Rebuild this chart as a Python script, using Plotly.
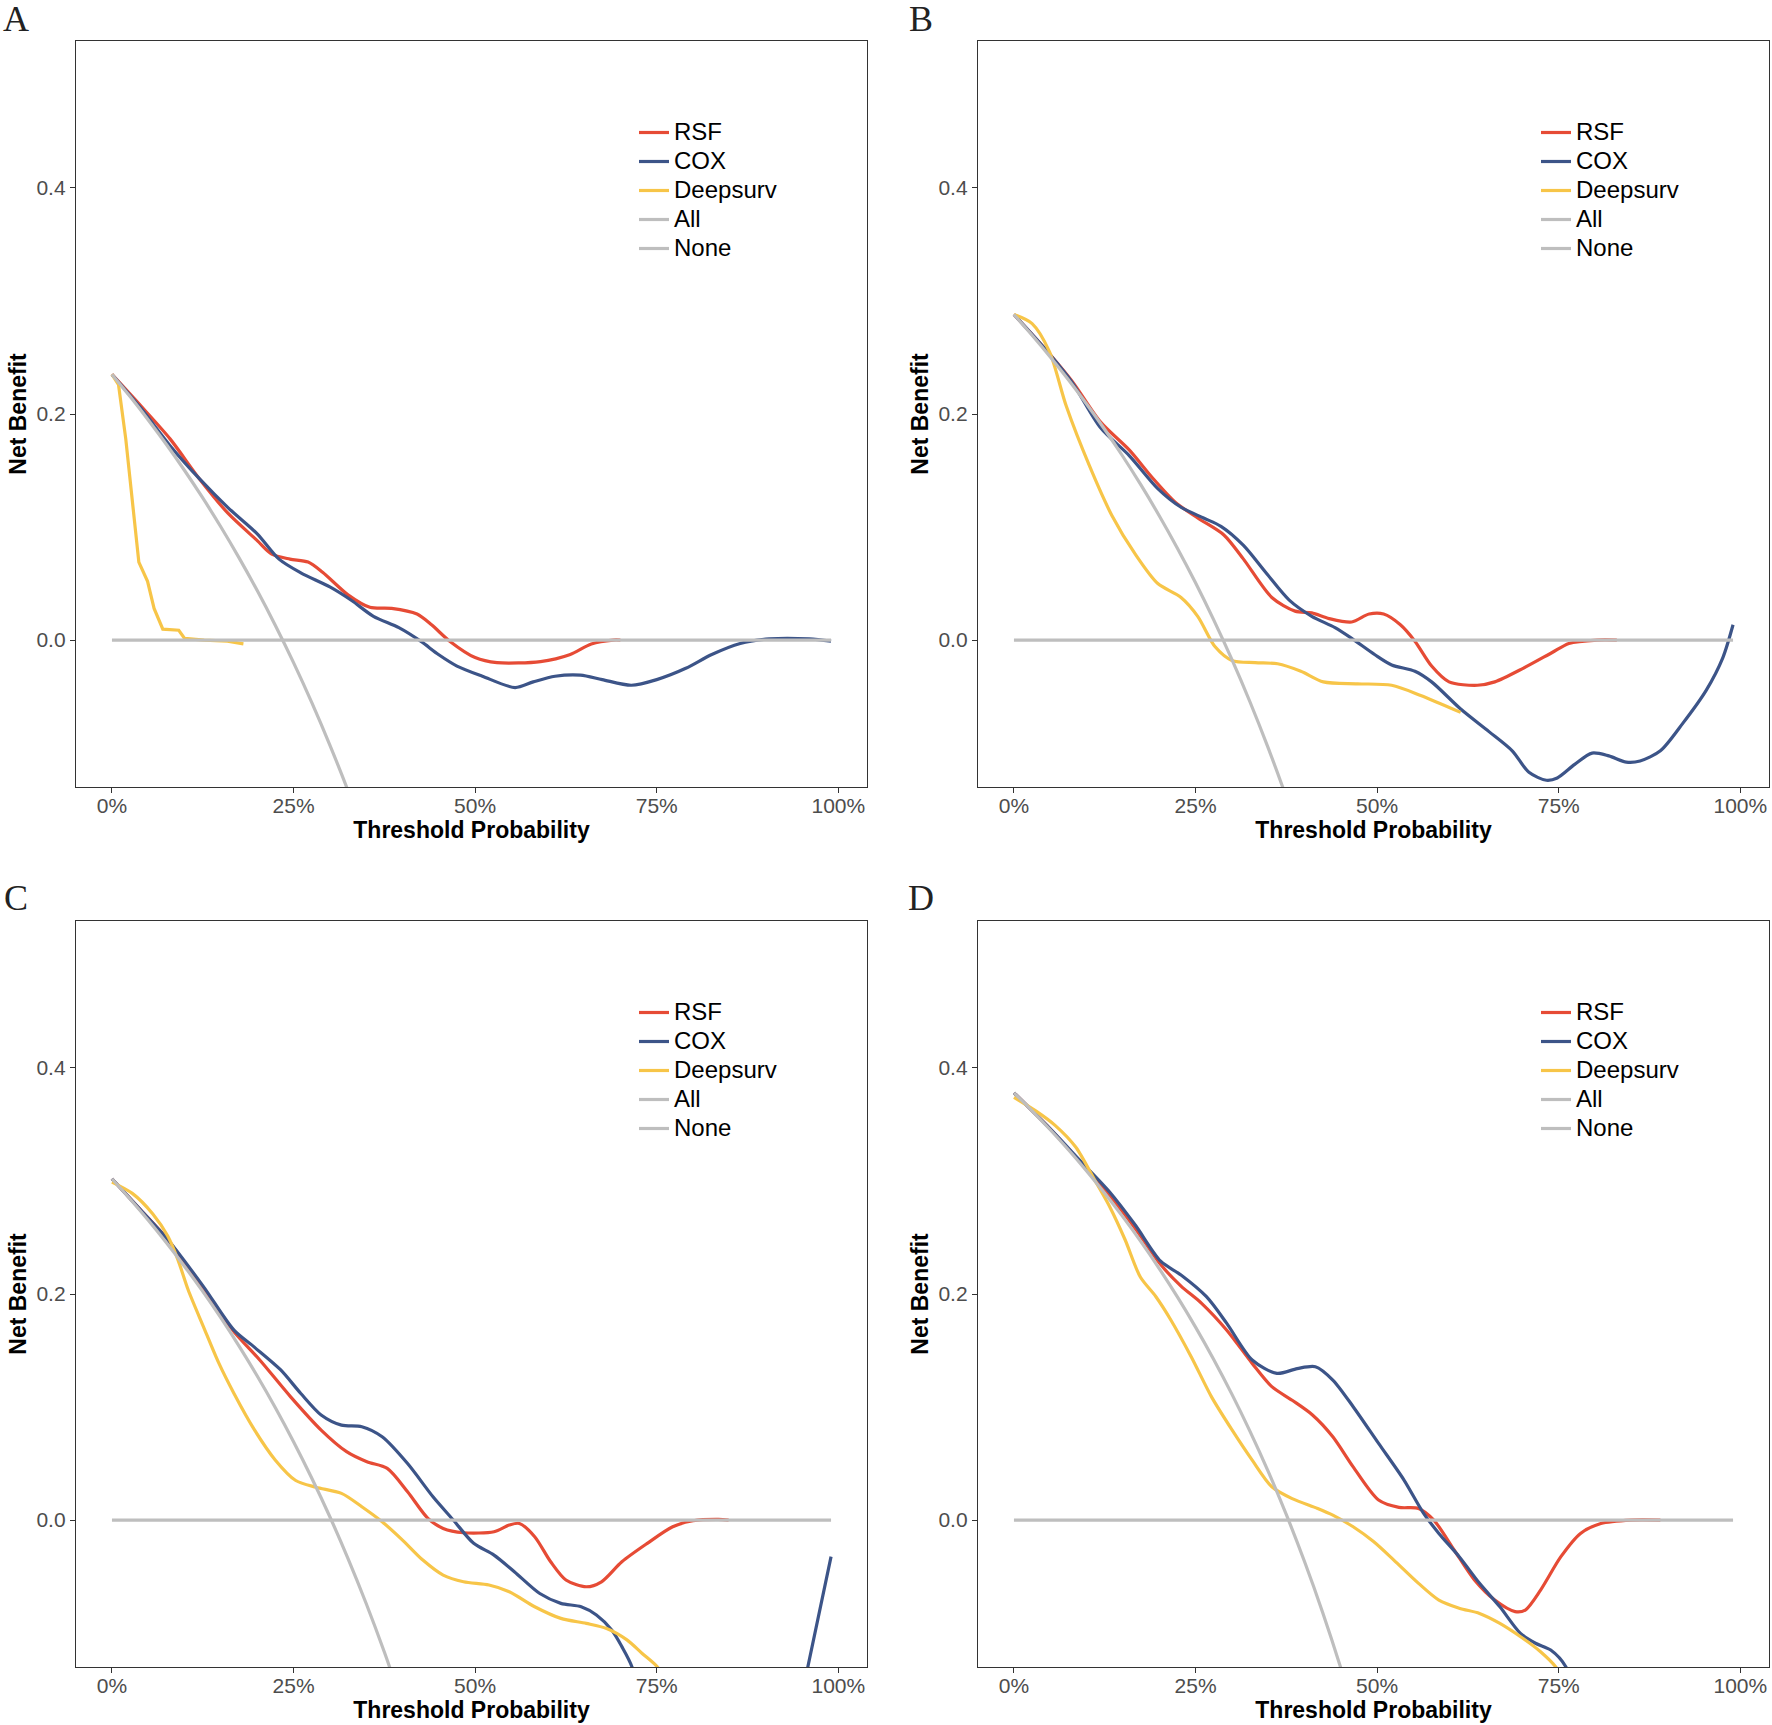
import plotly.graph_objects as go

# ---------------- data ----------------
series_names = ["RSF", "COX", "Deepsurv", "All", "None"]
tick_vals_x = [0, 0.25, 0.5, 0.75, 1.0]
tick_text_x = ["0%", "25%", "50%", "75%", "100%"]
tick_vals_y = [0.0, 0.2, 0.4]
tick_text_y = ["0.0", "0.2", "0.4"]
panel_labels = ["A", "B", "C", "D"]

none_t = [0, 0.99]
none_nb = [0, 0]

# Panel A
A_rsf_t = [0, 0.04, 0.08, 0.12, 0.16, 0.20, 0.22, 0.245, 0.27, 0.29, 0.325, 0.355, 0.385, 0.42, 0.44,
           0.465, 0.50, 0.53, 0.59, 0.63, 0.66, 0.69, 0.70]
A_rsf = [0.235, 0.207, 0.178, 0.143, 0.112, 0.088, 0.076, 0.0716, 0.069, 0.060, 0.040, 0.029, 0.028, 0.023,
         0.0135, -0.001, -0.0155, -0.020, -0.019, -0.013, -0.0034, 0.0, 0.0]
A_cox_t = [0, 0.04, 0.08, 0.12, 0.16, 0.20, 0.23, 0.26, 0.30, 0.33, 0.36, 0.395, 0.425, 0.45, 0.475, 0.51,
           0.555, 0.58, 0.61, 0.645, 0.675, 0.715, 0.75, 0.79, 0.825, 0.865, 0.905, 0.96, 0.99]
A_cox = [0.235, 0.205, 0.172, 0.143, 0.117, 0.094, 0.0716, 0.0595, 0.047, 0.035, 0.021, 0.011, -0.001, -0.013,
         -0.023, -0.032, -0.042, -0.037, -0.032, -0.031, -0.035, -0.040, -0.035, -0.025, -0.013, -0.003, 0.001,
         0.001, -0.001]
A_ds_t = [0, 0.009, 0.019, 0.027, 0.037, 0.049, 0.058, 0.070, 0.092, 0.10, 0.127, 0.159, 0.181]
A_ds = [0.235, 0.226, 0.178, 0.130, 0.069, 0.052, 0.028, 0.0097, 0.0087, 0.0015, 0.0, -0.001, -0.0034]
A_all_t = [0, 0.025, 0.05, 0.075, 0.10, 0.125, 0.15, 0.175, 0.20, 0.225, 0.25, 0.275, 0.30, 0.325, 0.35]
A_all = [0.235, 0.2154, 0.1947, 0.1730, 0.1500, 0.1257, 0.1000, 0.0727, 0.0438, 0.0129, -0.0200, -0.0552,
         -0.0929, -0.1333, -0.1769]

# Panel B
B_rsf_t = [0, 0.041, 0.080, 0.119, 0.159, 0.19, 0.222, 0.253, 0.289, 0.316, 0.355, 0.387, 0.41, 0.434, 0.465,
           0.489, 0.509, 0.532, 0.552, 0.575, 0.599, 0.638, 0.662, 0.701, 0.741, 0.764, 0.803, 0.83]
B_rsf = [0.288, 0.259, 0.229, 0.193, 0.168, 0.144, 0.122, 0.108, 0.093, 0.0716, 0.0377, 0.0256, 0.024, 0.019,
         0.016, 0.023, 0.023, 0.0135, -0.001, -0.023, -0.037, -0.040, -0.037, -0.025, -0.011, -0.003, 0.0, 0.0]
B_cox_t = [0, 0.041, 0.080, 0.119, 0.159, 0.198, 0.23, 0.261, 0.285, 0.316, 0.347, 0.379, 0.41, 0.442, 0.465,
           0.497, 0.52, 0.552, 0.575, 0.615, 0.654, 0.686, 0.709, 0.733, 0.748, 0.772, 0.796, 0.819, 0.843,
           0.862, 0.89, 0.921, 0.953, 0.976, 0.99]
B_cox = [0.288, 0.259, 0.228, 0.188, 0.163, 0.134, 0.1175, 0.108, 0.1006, 0.0837, 0.0595, 0.0353, 0.021, 0.011,
         0.0015, -0.013, -0.022, -0.0276, -0.037, -0.061, -0.081, -0.098, -0.117, -0.124, -0.122, -0.110,
         -0.100, -0.1025, -0.108, -0.107, -0.098, -0.0735, -0.0445, -0.0155, 0.0135]
B_ds_t = [0, 0.025, 0.049, 0.072, 0.104, 0.135, 0.167, 0.198, 0.23, 0.253, 0.277, 0.30, 0.332, 0.363, 0.395,
          0.426, 0.473, 0.52, 0.56, 0.615]
B_ds = [0.288, 0.28, 0.255, 0.207, 0.154, 0.110, 0.076, 0.050, 0.0377, 0.021, -0.006, -0.018, -0.020, -0.021,
        -0.0276, -0.037, -0.0387, -0.040, -0.049, -0.064]
B_all_t = [0, 0.025, 0.05, 0.075, 0.10, 0.125, 0.15, 0.175, 0.20, 0.225, 0.25, 0.275, 0.30, 0.325, 0.35,
           0.375, 0.40]
B_all = [0.288, 0.2697, 0.2505, 0.2303, 0.2089, 0.1863, 0.1624, 0.1370, 0.110, 0.0813, 0.0507, 0.0179,
         -0.0171, -0.0548, -0.0954, -0.1392, -0.1867]

# Panel C
C_rsf_t = [0, 0.04, 0.077, 0.126, 0.168, 0.2035, 0.246, 0.288, 0.323, 0.351, 0.379, 0.407, 0.435, 0.456,
           0.484, 0.526, 0.547, 0.561, 0.582, 0.604, 0.625, 0.653, 0.674, 0.702, 0.737, 0.772, 0.80, 0.835, 0.849]
C_rsf = [0.302, 0.274, 0.248, 0.2035, 0.1667, 0.1416, 0.109, 0.0796, 0.0605, 0.0516, 0.0457, 0.025, 0.0015,
         -0.0074, -0.0112, -0.0103, -0.0044, -0.003, -0.0147, -0.0369, -0.053, -0.059, -0.0546, -0.0369,
         -0.0206, -0.0059, -0.0006, 0.0006, 0.0]
C_cox_t = [0, 0.04, 0.077, 0.126, 0.168, 0.196, 0.232, 0.26, 0.288, 0.316, 0.344, 0.372, 0.407, 0.442, 0.47,
           0.498, 0.526, 0.554, 0.589, 0.618, 0.646, 0.667, 0.688, 0.702, 0.716, 0.73, 0.80, 0.90, 0.95,
           0.958, 0.99]
C_cox = [0.302, 0.274, 0.248, 0.2065, 0.168, 0.153, 0.133, 0.112, 0.093, 0.084, 0.0826, 0.0737, 0.050, 0.0206,
         0.0, -0.0206, -0.031, -0.0457, -0.065, -0.0737, -0.0767, -0.084, -0.0973, -0.112, -0.130, -0.17,
         -0.27, -0.28, -0.155, -0.13, -0.0324]
C_ds_t = [0, 0.028, 0.056, 0.077, 0.091, 0.105, 0.126, 0.147, 0.168, 0.196, 0.225, 0.253, 0.281, 0.316, 0.344,
          0.372, 0.40, 0.428, 0.456, 0.484, 0.519, 0.547, 0.582, 0.618, 0.653, 0.681, 0.709, 0.73, 0.751, 0.77]
C_ds = [0.299, 0.289, 0.271, 0.251, 0.230, 0.2035, 0.171, 0.139, 0.112, 0.080, 0.053, 0.035, 0.029, 0.0236,
        0.0118, -0.0015, -0.0177, -0.0354, -0.0487, -0.0546, -0.0575, -0.0634, -0.0767, -0.087, -0.0914,
        -0.0959, -0.106, -0.118, -0.130, -0.15]
C_all_t = [0, 0.025, 0.05, 0.075, 0.10, 0.125, 0.15, 0.175, 0.20, 0.225, 0.25, 0.275, 0.30, 0.325, 0.35,
           0.375, 0.40]
C_all = [0.302, 0.2841, 0.2653, 0.2454, 0.2244, 0.2023, 0.1788, 0.1539, 0.1275, 0.0994, 0.0693, 0.0372,
         0.0029, -0.0341, -0.0738, -0.1168, -0.1633]

# Panel D
D_rsf_t = [0, 0.05, 0.091, 0.132, 0.167, 0.202, 0.23, 0.258, 0.293, 0.328, 0.355, 0.383, 0.411, 0.439, 0.467,
           0.502, 0.53, 0.557, 0.578, 0.606, 0.634, 0.662, 0.69, 0.704, 0.725, 0.753, 0.78, 0.808, 0.85, 0.89]
D_rsf = [0.378, 0.346, 0.317, 0.287, 0.258, 0.226, 0.207, 0.192, 0.168, 0.1386, 0.118, 0.106, 0.093, 0.0737,
         0.047, 0.0177, 0.0112, 0.0103, 0.0, -0.0265, -0.053, -0.0708, -0.081, -0.0796, -0.062, -0.0324,
         -0.0118, -0.003, 0.0, 0.0]
D_cox_t = [0, 0.05, 0.091, 0.132, 0.167, 0.202, 0.23, 0.265, 0.293, 0.328, 0.362, 0.39, 0.415, 0.439, 0.467,
           0.502, 0.537, 0.564, 0.585, 0.613, 0.641, 0.669, 0.697, 0.718, 0.739, 0.76, 0.78]
D_cox = [0.378, 0.346, 0.318, 0.290, 0.261, 0.229, 0.2168, 0.1976, 0.174, 0.1416, 0.1298, 0.134, 0.1357,
         0.1239, 0.1003, 0.0678, 0.0354, 0.0059, -0.0118, -0.0324, -0.056, -0.0767, -0.100, -0.109, -0.115,
         -0.130, -0.17]
D_ds_t = [0, 0.03, 0.057, 0.085, 0.111, 0.132, 0.153, 0.174, 0.195, 0.216, 0.244, 0.272, 0.30, 0.328, 0.355,
          0.383, 0.418, 0.439, 0.467, 0.495, 0.523, 0.557, 0.585, 0.613, 0.641, 0.669, 0.697, 0.725, 0.746, 0.76]
D_ds = [0.374, 0.362, 0.349, 0.330, 0.301, 0.277, 0.248, 0.215, 0.198, 0.177, 0.1445, 0.109, 0.080, 0.053,
        0.0295, 0.019, 0.0103, 0.0044, -0.0059, -0.019, -0.0354, -0.056, -0.0708, -0.078, -0.0826, -0.0914,
        -0.103, -0.1165, -0.130, -0.145]
D_all_t = [0, 0.025, 0.05, 0.075, 0.10, 0.125, 0.15, 0.175, 0.20, 0.225, 0.25, 0.275, 0.30, 0.325, 0.35,
           0.375, 0.40, 0.425, 0.45, 0.475]
D_all = [0.378, 0.3621, 0.3453, 0.3276, 0.3089, 0.2891, 0.2682, 0.2461, 0.2225, 0.1974, 0.1707, 0.1421,
         0.1114, 0.0785, 0.0431, 0.0048, -0.0367, -0.0817, -0.1309, -0.1848]

panels = [
    dict(rsf=(A_rsf_t, A_rsf), cox=(A_cox_t, A_cox), ds=(A_ds_t, A_ds), all=(A_all_t, A_all), ds_linear=True),
    dict(rsf=(B_rsf_t, B_rsf), cox=(B_cox_t, B_cox), ds=(B_ds_t, B_ds), all=(B_all_t, B_all), ds_linear=False),
    dict(rsf=(C_rsf_t, C_rsf), cox=(C_cox_t, C_cox), ds=(C_ds_t, C_ds), all=(C_all_t, C_all), ds_linear=False),
    dict(rsf=(D_rsf_t, D_rsf), cox=(D_cox_t, D_cox), ds=(D_ds_t, D_ds), all=(D_all_t, D_all), ds_linear=False),
]

# ---------------- styling ----------------
PAGE_MARGIN = 0                      # body margin removed by the post script below
W, H = 1772 - PAGE_MARGIN, 1725 - PAGE_MARGIN
colors = {"RSF": "#E64B35", "COX": "#3C5488", "Deepsurv": "#F7C548", "All": "#BEBEBE", "None": "#BEBEBE"}
LW = 3.2
FONT = "Liberation Sans, Arial, sans-serif"

# pixel boxes of the four panels in window pixels (left, right, top, bottom)
boxes = [(76, 867, 41, 787), (978, 1769, 41, 787), (76, 867, 921, 1667), (978, 1769, 921, 1667)]
letter_pos = [(16, 19), (921, 19), (16, 898), (921, 898)]


def px_x(v):
    return (v - PAGE_MARGIN) / W


def px_y(v):
    return 1 - (v - PAGE_MARGIN) / H


fig = go.Figure()
layout = dict(
    width=W, height=H, margin=dict(l=0, r=0, t=0, b=0),
    paper_bgcolor="white", plot_bgcolor="white",
    font=dict(family=FONT, color="#4D4D4D"),
    annotations=[],
)

for i, p in enumerate(panels):
    n = i + 1
    xa = "x" if n == 1 else f"x{n}"
    ya = "y" if n == 1 else f"y{n}"
    lg = "legend" if n == 1 else f"legend{n}"
    l, r, t, b = boxes[i]

    def add(name, tx, ty, shape="spline"):
        fig.add_trace(go.Scatter(
            x=tx, y=ty, mode="lines",
            name=f'<span style="font-size:24px">{name}</span>',
            line=dict(color=colors[name], width=LW, shape=shape, smoothing=0.8 if shape == "spline" else None),
            xaxis=xa, yaxis=ya, legend=lg, showlegend=True, hoverinfo="skip"))

    add("RSF", *p["rsf"])
    add("COX", *p["cox"])
    add("Deepsurv", *p["ds"], shape="linear" if p["ds_linear"] else "spline")
    add("All", *p["all"])
    add("None", none_t, none_nb, shape="linear")

    axis_common = dict(showgrid=False, zeroline=False, showline=True, mirror=True,
                       linecolor="#333333", linewidth=1.3, ticks="outside", ticklen=5,
                       tickwidth=1.3, tickcolor="#333333",
                       tickfont=dict(family=FONT, size=21, color="#4D4D4D"))
    layout["xaxis" if n == 1 else f"xaxis{n}"] = dict(
        axis_common, domain=[px_x(l), px_x(r)], range=[-0.0495, 1.0395], anchor=ya,
        tickvals=tick_vals_x, ticktext=tick_text_x, ticklabelstandoff=-5,
        title=dict(text="<b>Threshold Probability</b>", standoff=4,
                   font=dict(family=FONT, size=23, color="black")))
    layout["yaxis" if n == 1 else f"yaxis{n}"] = dict(
        axis_common, domain=[px_y(b), px_y(t)], range=[-0.13, 0.53], anchor=xa,
        tickvals=tick_vals_y, ticktext=tick_text_y,
        title=dict(text="<b>Net Benefit</b>", standoff=3,
                   font=dict(family=FONT, size=23, color="black")))
    layout[lg] = dict(x=px_x(l + 558), y=px_y(t + 72), xanchor="left", yanchor="top",
                      bgcolor="rgba(0,0,0,0)", borderwidth=0, tracegroupgap=0, itemwidth=30,
                      font=dict(family=FONT, size=20, color="black"))

    lx, ly = letter_pos[i]
    layout["annotations"].append(dict(
        text=panel_labels[i], xref="paper", yref="paper", x=px_x(lx), y=px_y(ly),
        xanchor="center", yanchor="middle", showarrow=False,
        font=dict(family="Liberation Serif, Times New Roman, serif", size=36, color="#222222")))

fig.update_layout(**layout)
fig.write_html("out.html", config={"displayModeBar": False},
               post_script="document.body.style.margin='0px';document.body.style.overflow='hidden';")
